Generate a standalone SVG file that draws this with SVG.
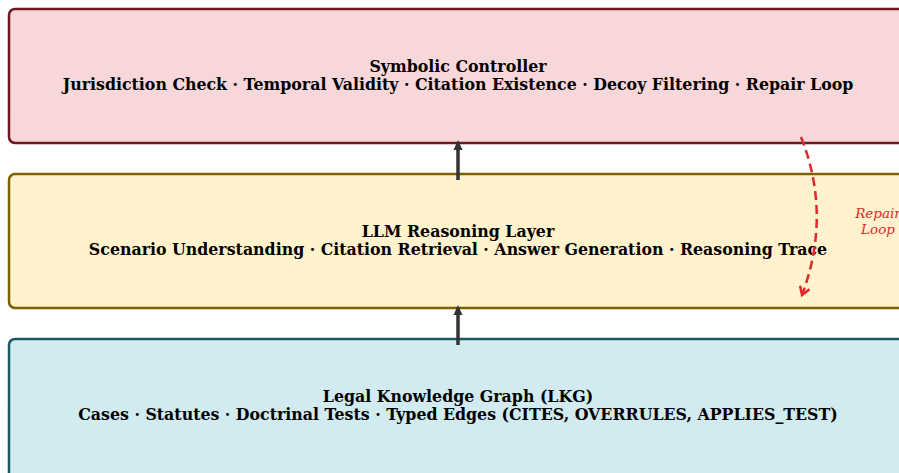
<svg xmlns="http://www.w3.org/2000/svg" width="899" height="473" viewBox="0 0 899 473">
<defs>
<style>
.t{font-family:"DejaVu Serif",serif;font-weight:bold;font-size:15.8px;fill:#000;text-anchor:middle}
.r{font-family:"DejaVu Serif",serif;font-style:italic;font-size:13.5px;fill:#e0282a;text-anchor:middle}
.box{stroke-width:2.5}
</style>
<marker id="ah" markerWidth="10" markerHeight="10" refX="7" refY="5" orient="auto" markerUnits="userSpaceOnUse" viewBox="0 0 10 10">
<path d="M0,0.5 L10,5 L0,9.5 Z" fill="#333"/>
</marker>
<marker id="rh" markerWidth="12" markerHeight="12" refX="10" refY="6" orient="auto" markerUnits="userSpaceOnUse" viewBox="0 0 12 12">
<path d="M2,1 L10,6 L2,11" fill="none" stroke="#e0282a" stroke-width="2.5"/>
</marker>
</defs>
<rect width="899" height="473" fill="#fff"/>
<g id="symbolic">
<rect class="box" x="9" y="9" width="900" height="134" rx="6" fill="#f8d7da" stroke="#6b1a22"/>
<text class="t" x="458" y="72">Symbolic Controller</text>
<text class="t" x="458" y="90">Jurisdiction Check · Temporal Validity · Citation Existence · Decoy Filtering · Repair Loop</text>
</g>
<g id="llm">
<rect class="box" x="9" y="174" width="900" height="134" rx="6" fill="#fff2cc" stroke="#7f6000"/>
<text class="t" x="458" y="237">LLM Reasoning Layer</text>
<text class="t" x="458" y="255">Scenario Understanding · Citation Retrieval · Answer Generation · Reasoning Trace</text>
</g>
<g id="lkg">
<rect class="box" x="9" y="339" width="900" height="140" rx="6" fill="#d1ebf0" stroke="#1a5a64"/>
<text class="t" x="458" y="402">Legal Knowledge Graph (LKG)</text>
<text class="t" x="458" y="420">Cases · Statutes · Doctrinal Tests · Typed Edges (CITES, OVERRULES, APPLIES_TEST)</text>
</g>
<g id="connectors">
<line x1="458" y1="180" x2="458" y2="143" stroke="#333" stroke-width="3.5" marker-end="url(#ah)"/>
<line x1="458" y1="345" x2="458" y2="308" stroke="#333" stroke-width="3.5" marker-end="url(#ah)"/>
<path d="M801,137 Q832,215 802,295" fill="none" stroke="#e0282a" stroke-width="2.5" stroke-dasharray="9,5" marker-end="url(#rh)"/>
<text class="r" x="878" y="218">Repair</text>
<text class="r" x="878" y="234">Loop</text>
</g>
</svg>
